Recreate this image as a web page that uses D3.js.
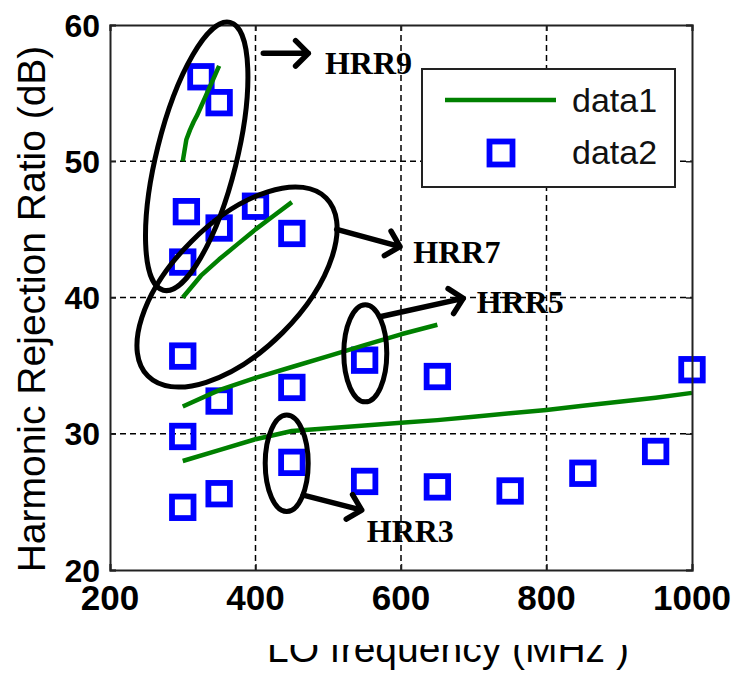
<!DOCTYPE html>
<html>
<head>
<meta charset="utf-8">
<script src="https://cdn.jsdelivr.net/npm/d3@7"></script>
<style>
  html, body { margin: 0; padding: 0; background: #fff; }
  svg { display: block; }
</style>
</head>
<body>
<script>
// Axis ticks
const xTicks = [200, 400, 600, 800, 1000];
const yTicks = [20, 30, 40, 50, 60];

// Simulated harmonic rejection curves (data1), LO frequency in MHz vs dB
const hrr3Freq = [300, 350, 400, 450, 500, 550, 600, 650, 700, 750, 800, 850, 900, 950, 1000];
const hrr3Sim  = [28, 28.8, 29.6, 30.2, 30.4, 30.6, 30.8, 31.0, 31.25, 31.5, 31.75, 32.05, 32.35, 32.65, 33];
const hrr5Freq = [300, 350, 400, 450, 500, 550, 600, 650];
const hrr5Sim  = [32, 33.2, 34.1, 34.9, 35.7, 36.5, 37.3, 38];
const hrr7Freq = [300, 325, 350, 375, 400, 425, 450];
const hrr7Sim  = [40, 41.6, 42.8, 43.9, 45, 46, 47];
const hrr9Freq = [300, 305, 310, 315, 320, 325, 330, 335, 340, 345, 350];
const hrr9Sim  = [50, 51.6, 52.3, 52.9, 53.4, 54, 54.6, 55.2, 55.8, 56.4, 57];

// Measured points (data2)
const measFreq = [300, 350, 450, 550, 650, 750, 850, 950,
                  300, 350, 450, 550, 650, 1000,
                  300, 305, 350, 400, 450, 300,
                  325, 350];
const measHRR  = [24.6, 25.6, 27.9, 26.5, 26.1, 25.8, 27.1, 28.7,
                  29.8, 32.4, 33.4, 35.4, 34.2, 34.7,
                  42.6, 46.3, 45.1, 46.7, 44.7, 35.7,
                  56.2, 54.3];

// Annotation labels
const annLabels = ["HRR9", "HRR7", "HRR5", "HRR3"];
const annCenterF = [319.2, 374.6, 550.9, 442.9];
const annCenterDb = [50.36, 40.77, 35.9, 27.83];
const annArrowFromF = [410.7, 511.6, 571.1, 465.7];
const annArrowFromDb = [57.92, 45.0, 38.59, 25.5];
const annArrowToF = [472.6, 598.6, 685.6, 546];
const annArrowToDb = [57.92, 43.73, 39.94, 24.4];
const annTextF = [495.5, 616.9, 704.1, 552.9];
const annTextDb = [56.4, 42.55, 38.84, 22.08];

const W = 731, H = 673;
const plot = { left: 110, right: 692, top: 25, bottom: 570 };

const svg = d3.select("body").append("svg")
  .attr("width", W).attr("height", H);

const x = d3.scaleLinear().domain([200, 1000]).range([plot.left, plot.right]);
const y = d3.scaleLinear().domain([20, 60]).range([plot.bottom, plot.top]);

// Dashed grid
const grid = svg.append("g").attr("stroke", "#000").attr("stroke-width", 1.5)
  .attr("stroke-dasharray", "6,4").attr("fill", "none");
grid.selectAll("line.v").data(xTicks.slice(1, -1)).join("line")
  .attr("x1", d => x(d)).attr("x2", d => x(d))
  .attr("y1", plot.top).attr("y2", plot.bottom);
grid.selectAll("line.h").data(yTicks.slice(1, -1)).join("line")
  .attr("y1", d => y(d)).attr("y2", d => y(d))
  .attr("x1", plot.left).attr("x2", plot.right);

// Measured squares
const side = 21.5;
svg.append("g").selectAll("rect").data(measFreq.map((f, i) => [f, measHRR[i]])).join("rect")
  .attr("x", d => x(d[0]) - side / 2)
  .attr("y", d => y(d[1]) - side / 2)
  .attr("width", side).attr("height", side)
  .attr("fill", "none").attr("stroke", "#0000ff").attr("stroke-width", 5.8);

// Simulated curves
const line = d3.line().x(d => x(d[0])).y(d => y(d[1]));
const curves = [
  [hrr3Freq, hrr3Sim], [hrr5Freq, hrr5Sim], [hrr7Freq, hrr7Sim], [hrr9Freq, hrr9Sim]
].map(([fs, vs]) => fs.map((f, i) => [f, vs[i]]));
svg.append("g").selectAll("path").data(curves).join("path")
  .attr("d", line)
  .attr("fill", "none").attr("stroke", "#008000").attr("stroke-width", 4.5)
  .attr("stroke-linejoin", "round");

// Axes frame with inward ticks
const axisG = svg.append("g");
const axB = d3.axisBottom(x).tickValues(xTicks).tickSize(-6).tickFormat("");
const axT = d3.axisTop(x).tickValues(xTicks).tickSize(-6).tickFormat("");
const axL = d3.axisLeft(y).tickValues(yTicks).tickSize(-6).tickFormat("");
const axR = d3.axisRight(y).tickValues(yTicks).tickSize(-6).tickFormat("");
axisG.append("g").attr("transform", `translate(0,${plot.bottom})`).call(axB);
axisG.append("g").attr("transform", `translate(0,${plot.top})`).call(axT);
axisG.append("g").attr("transform", `translate(${plot.left},0)`).call(axL);
axisG.append("g").attr("transform", `translate(${plot.right},0)`).call(axR);
axisG.selectAll(".domain").attr("stroke", "#222").attr("stroke-width", 2);
axisG.selectAll(".tick line").attr("stroke", "#222").attr("stroke-width", 1.5);

// Tick labels
svg.append("g").selectAll("text").data(xTicks).join("text")
  .attr("x", d => x(d)).attr("y", 610)
  .attr("text-anchor", "middle")
  .attr("font-family", "'Liberation Sans', Arial, sans-serif")
  .attr("font-weight", "bold").attr("font-size", 35)
  .text(d => d);
svg.append("g").selectAll("text").data(yTicks).join("text")
  .attr("x", 100).attr("y", d => y(d))
  .attr("dy", "0.36em")
  .attr("text-anchor", "end")
  .attr("font-family", "'Liberation Sans', Arial, sans-serif")
  .attr("font-weight", "bold").attr("font-size", 32)
  .text(d => d);

// Axis titles
svg.append("text")
  .attr("transform", "translate(45,309) rotate(-90)")
  .attr("text-anchor", "middle")
  .attr("font-family", "'Liberation Sans', Arial, sans-serif")
  .attr("font-size", 39)
  .text("Harmonic Rejection Ratio (dB)");

svg.append("clipPath").attr("id", "xtitle-clip")
  .append("rect").attr("x", 0).attr("y", 645).attr("width", W).attr("height", 40);
svg.append("text")
  .attr("x", 267).attr("y", 662)
  .attr("clip-path", "url(#xtitle-clip)")
  .attr("font-family", "'Liberation Sans', Arial, sans-serif")
  .attr("font-size", 39)
  .text("LO frequency (MHz )");

// Annotation ellipses
const ellipseShape = [
  { rx: 40, ry: 138, rot: 14 },
  { rx: 126, ry: 64.5, rot: -45 },
  { rx: 21.5, ry: 48.5, rot: 0 },
  { rx: 21.5, ry: 48.3, rot: 0 }
];
const ann = svg.append("g");
ann.selectAll("ellipse").data(annLabels.map((l, i) => i)).join("ellipse")
  .attr("cx", i => x(annCenterF[i])).attr("cy", i => y(annCenterDb[i]))
  .attr("rx", i => ellipseShape[i].rx).attr("ry", i => ellipseShape[i].ry)
  .attr("transform", i => `rotate(${ellipseShape[i].rot},${x(annCenterF[i])},${y(annCenterDb[i])})`)
  .attr("fill", "none").attr("stroke", "#000").attr("stroke-width", 5);

// Arrows with open heads
annLabels.forEach((l, i) => {
  const x1 = x(annArrowFromF[i]), y1 = y(annArrowFromDb[i]);
  const x2 = x(annArrowToF[i]), y2 = y(annArrowToDb[i]);
  const a = Math.atan2(y2 - y1, x2 - x1);
  const len = 18, spread = Math.PI / 4;
  const p = d3.path();
  p.moveTo(x1, y1); p.lineTo(x2, y2);
  p.moveTo(x2 - len * Math.cos(a - spread), y2 - len * Math.sin(a - spread));
  p.lineTo(x2, y2);
  p.lineTo(x2 - len * Math.cos(a + spread), y2 - len * Math.sin(a + spread));
  ann.append("path").attr("d", p.toString())
    .attr("fill", "none").attr("stroke", "#000").attr("stroke-width", 5.5)
    .attr("stroke-linecap", "round").attr("stroke-linejoin", "round");
  ann.append("text")
    .attr("x", x(annTextF[i])).attr("y", y(annTextDb[i]))
    .attr("font-family", "'Liberation Serif', 'Times New Roman', serif")
    .attr("font-weight", "bold").attr("font-size", 32)
    .text(l);
});

// Legend
const lg = svg.append("g");
lg.append("rect").attr("x", 422).attr("y", 69).attr("width", 253).attr("height", 118)
  .attr("fill", "#fff").attr("stroke", "#222").attr("stroke-width", 2);
lg.append("line").attr("x1", 445).attr("x2", 556).attr("y1", 100).attr("y2", 100)
  .attr("stroke", "#008000").attr("stroke-width", 4.5);
lg.append("rect").attr("x", 501 - 11.5).attr("y", 153 - 11.5).attr("width", 23).attr("height", 23)
  .attr("fill", "none").attr("stroke", "#0000ff").attr("stroke-width", 5.8);
lg.selectAll("text").data(["data1", "data2"]).join("text")
  .attr("x", 572).attr("y", (d, i) => i === 0 ? 112 : 164)
  .attr("font-family", "'Liberation Sans', Arial, sans-serif")
  .attr("font-size", 34).attr("fill", "#111")
  .text(d => d);
</script>
</body>
</html>
